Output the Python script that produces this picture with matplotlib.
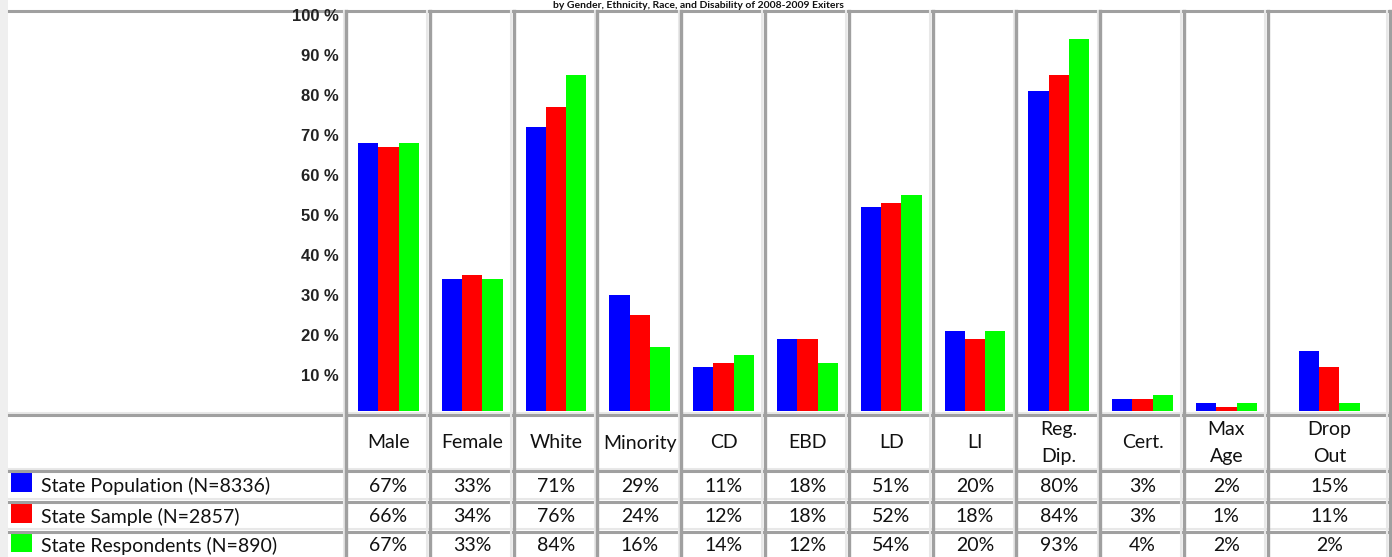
"""
Bar chart with data table underneath (exiters by gender, race, disability)
"""

import matplotlib.pyplot as plt
from matplotlib import transforms
from matplotlib.patches import Rectangle

# data
title = 'by Gender, Ethnicity, Race, and Disability of 2008-2009 Exiters'
categories = ['Male', 'Female', 'White', 'Minority', 'CD', 'EBD', 'LD', 'LI',
              'Reg.\nDip.', 'Cert.', 'Max\nAge', 'Drop\nOut']
series_names = ['State Population (N=8336)', 'State Sample (N=2857)',
                'State Respondents (N=890)']
population = [67, 33, 71, 29, 11, 18, 51, 20, 80, 3, 2, 15]
sample = [66, 34, 76, 24, 12, 18, 52, 18, 84, 3, 1, 11]
respondents = [67, 33, 84, 16, 14, 12, 54, 20, 93, 4, 2, 2]
y_ticks = [10, 20, 30, 40, 50, 60, 70, 80, 90, 100]

colors = ['#0000ff', '#ff0000', '#00ff00']
dark = '#a0a0a0'
light = '#e8e8e8'

# page layout in pixels
W, H = 1392, 557
left_edge = 346
col_w = [83.8] * 11 + [122]
plot_top, plot_bot = 11, 411
row_lines = [415, 471, 501.5, 531.5]
bar_w = 20.3

edges = [left_edge]
for w in col_w:
    edges.append(edges[-1] + w)
centers = [(edges[k] + edges[k + 1]) / 2 + 0.5 for k in range(len(col_w))]

fig = plt.figure(figsize=(W / 100, H / 100), dpi=100)

# overlay axes in pixel coordinates for the table grid and text
ov = fig.add_axes([0, 0, 1, 1])
ov.set_xlim(0, W)
ov.set_ylim(H, 0)
ov.axis('off')

ov.add_patch(Rectangle((0, 0), 8, H, color='#efefef', lw=0))
ov.plot([9, 1391], [11, 11], color=dark, lw=2.2)
for y in row_lines:
    ov.plot([9, 1391], [y - 2.5, y - 2.5], color=light, lw=1.5)
    ov.plot([9, 1391], [y, y], color=dark, lw=2.2)
for x in edges:
    ov.plot([x - 2.5, x - 2.5], [11, H], color=light, lw=1.5)
    ov.plot([x, x], [11, H], color=dark, lw=2.4)

# title (the screenshot cuts it at the top, keep it small and inside)
ov.text(698, 0.5, title, ha='center', va='top', fontsize=7.5,
        fontweight='bold', family='Lato', color='#111111')

# bar axes
ax = fig.add_axes([left_edge / W, (H - plot_bot) / H,
                   (edges[-1] - left_edge) / W, (plot_bot - plot_top) / H])
ax.set_xlim(left_edge, edges[-1])
ax.set_ylim(0, 100)
ax.axis('off')
ax.patch.set_alpha(0)

for i, vals in enumerate([population, sample, respondents]):
    xs = [c + (i - 1) * bar_w for c in centers]
    ax.bar(xs, vals, width=bar_w, color=colors[i], linewidth=0)

# y tick labels, sitting slightly below the tick value like the original
trans = transforms.blended_transform_factory(ax.transAxes, ax.transData)
trans = trans + transforms.ScaledTranslation(-5 / 72, -4 / 72, fig.dpi_scale_trans)
for t in y_ticks:
    ax.text(0, t, '{} %'.format(t), transform=trans, ha='right', va='center',
            fontsize=12, fontweight='bold', family='Liberation Sans',
            color='#222222', clip_on=False)

# table header
for k, cat in enumerate(categories):
    ov.text(centers[k], 443, cat, ha='center', va='center', fontsize=14,
            family='Lato', color='#111111', linespacing=1.7)

# table rows
row_y = [486, 516.5, 545.5]
for i, vals in enumerate([population, sample, respondents]):
    y = row_y[i]
    ov.add_patch(Rectangle((11, y - 14), 21, 20, color=colors[i], lw=0))
    ov.text(41, y, series_names[i], ha='left', va='center', fontsize=14,
            family='Lato', color='#111111')
    for k, v in enumerate(vals):
        ov.text(centers[k], y, '{}%'.format(v), ha='center', va='center',
                fontsize=14, family='Lato', color='#111111')

plt.savefig('out.png', dpi=100)
plt.close()
